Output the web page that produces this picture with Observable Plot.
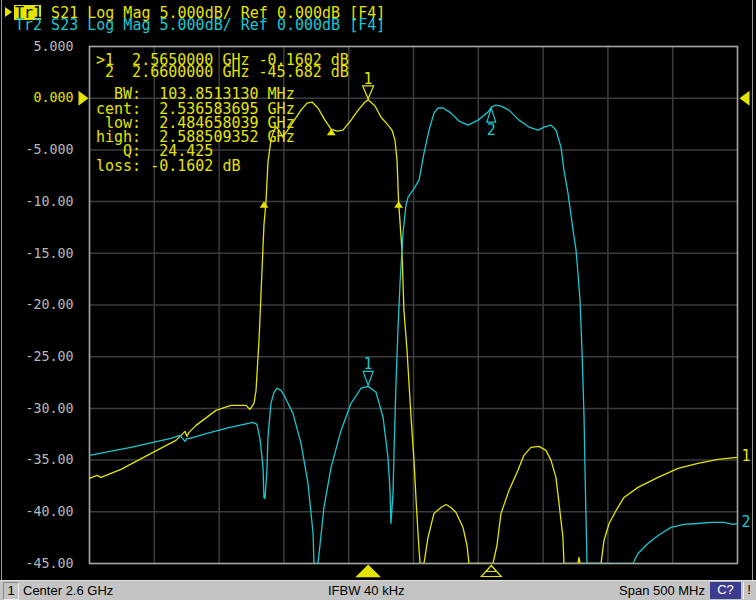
<!DOCTYPE html>
<html><head><meta charset="utf-8">
<script src="https://cdn.jsdelivr.net/npm/d3@7"></script>
<script src="https://cdn.jsdelivr.net/npm/@observablehq/plot@0.6"></script>
<style>
html,body{margin:0;padding:0;background:#000;width:756px;height:600px;overflow:hidden}
#wrap{position:relative;width:756px;height:600px;background:#000;overflow:hidden}
.mono{position:absolute;font-family:"DejaVu Sans Mono",monospace;font-size:15px;line-height:12px;height:12px;white-space:pre;margin:0}
#bar{position:absolute;left:0;top:580px;width:756px;height:20px;background:#c4c4c4;border-top:1px solid #e0e0e0;box-sizing:border-box;font-family:"Liberation Sans",sans-serif;font-size:13px;color:#000}
#bar div{position:absolute;top:2px;line-height:16px;white-space:pre}
svg{position:absolute;left:0;top:0}
</style></head><body>
<div id="wrap"></div>
<script>
// ---- data ----
const freqS21 = [2350,2355.8,2358.9,2374.3,2399.0,2416.7,2421.4,2423.7,2425.2,2426.8,2432.2,2447.6,2459.2,2470.8,2473.8,2476.9,2478.5,2480.8,2483.1,2484.6,2486.2,2487.7,2490.0,2492.4,2493.9,2496.2,2499.3,2505.5,2513.2,2517.8,2521.7,2526.3,2531.7,2536.4,2540.9,2545.6,2551.8,2557.9,2562.6,2565,2570.3,2574.9,2580.3,2583.4,2585.7,2587.3,2588.0,2588.5,2591.1,2592.6,2595.0,2598.1,2600.4,2602.0,2604.3,2605.1,2608.1,2611.2,2615.8,2621.2,2625.1,2628.9,2632.8,2638.2,2641.3,2642.8,2661.3,2664.4,2667.5,2673.7,2680.6,2685.2,2690.6,2696.8,2702.2,2706.1,2709.9,2712.3,2715.3,2716.1,2726.9,2727.7,2728.5,2744.7,2747.0,2750.9,2756.3,2762.4,2773.2,2788.7,2804.1,2819.5,2835.0,2850];
const magS21 = [-36.77,-36.48,-36.67,-35.90,-34.25,-33.09,-32.51,-32.22,-32.70,-32.32,-31.64,-30.19,-29.71,-29.71,-30.10,-29.52,-28.25,-23.41,-16.64,-12.28,-10.0,-6.18,-4.05,-3.08,-2.79,-3.08,-3.76,-2.60,-1.15,-0.47,-0.37,-0.95,-2.12,-2.99,-3.18,-3.08,-2.12,-1.05,-0.37,-0.16,-0.76,-1.82,-2.60,-3.08,-4.05,-5.99,-8.41,-10.0,-14.69,-20.50,-24.38,-30.86,-35.03,-38.90,-43.74,-45,-45,-42.48,-40.16,-39.58,-39.29,-39.58,-40.06,-41.51,-43.26,-45,-45,-43.26,-40.16,-37.93,-35.99,-34.54,-33.77,-33.67,-34.06,-35.03,-36.67,-39.19,-42.48,-45,-45,-44.42,-45,-45,-42.77,-41.13,-39.87,-38.61,-37.64,-36.67,-35.80,-35.32,-34.93,-34.74];
const freqS23 = [2350,2365.8,2382.0,2399.0,2412.9,2419.8,2423.7,2425.2,2427.6,2440.7,2458.4,2476.2,2479.2,2481.6,2483.9,2484.6,2485.4,2486.9,2487.7,2490.0,2492.4,2494.7,2497.8,2500.1,2507.0,2513.2,2518.6,2522.5,2523.2,2526.3,2527.8,2530.9,2536.4,2544.1,2551.8,2559.5,2565,2571.1,2576.5,2580.3,2581.9,2582.6,2584.2,2585.0,2586.5,2588.0,2589.6,2591.9,2594.2,2595.8,2599.6,2604.3,2608.1,2612.0,2615.8,2618.9,2622.8,2629.0,2635.1,2642.1,2649.8,2657.5,2660,2663.6,2667.5,2673.7,2681.4,2689.1,2696.1,2700.7,2706.1,2709.9,2713.8,2716.1,2719.2,2723.1,2725.4,2726.9,2728.5,2730.0,2731.6,2732.3,2733.1,2733.9,2769.4,2773.2,2780.9,2788.7,2798.7,2808.7,2819.5,2829.6,2839.6,2846.6,2850];
const magS23 = [-34.55,-34.16,-33.77,-33.29,-32.90,-32.61,-33.19,-32.90,-32.90,-32.41,-31.83,-31.35,-31.54,-33.0,-35.71,-38.61,-38.71,-36.0,-32.80,-29.51,-28.44,-28.05,-28.25,-28.73,-30.48,-33.38,-37.25,-42.10,-45,-45,-43.26,-39.58,-35.71,-32.13,-29.51,-28.05,-27.87,-28.44,-30.86,-34.74,-37.93,-41.13,-38.22,-34.06,-27.57,-22.44,-17.89,-13.05,-10.34,-9.57,-8.89,-7.92,-5.31,-3.08,-1.44,-0.95,-0.95,-1.44,-2.21,-2.60,-2.12,-1.34,-0.86,-0.66,-0.76,-1.15,-2.12,-2.79,-3.08,-2.79,-2.60,-3.08,-4.73,-6.96,-9.18,-12.76,-14.70,-16.93,-19.54,-24.38,-30.86,-35.71,-40.55,-45,-45,-44.03,-43.06,-42.29,-41.51,-41.22,-41.13,-41.03,-41.03,-41.22,-41.13];
const markerFreqs = [2565, 2660];
const markerS21 = [-0.1602, -45.682];
const markerS23 = [-27.87, -0.86];
const bwFreqs = [2484.658039, 2536.583695, 2588.509352];
const bwLevels = [-10, -2.99, -10];
const xTicks = [2350,2400,2450,2500,2550,2600,2650,2700,2750,2800,2850];
const yTicks = [5,0,-5,-10,-15,-20,-25,-30,-35,-40,-45];
const headerS21 = " S21 Log Mag 5.000dB/ Ref 0.000dB [F4]";
const headerS23 = "Tr2 S23 Log Mag 5.000dB/ Ref 0.000dB [F4]";
const readout = [">1  2.5650000 GHz -0.1602 dB", " 2  2.6600000 GHz -45.682 dB", "  BW:  103.8513130 MHz", "cent:  2.536583695 GHz", " low:  2.484658039 GHz", "high:  2.588509352 GHz", "   Q:  24.425", "loss: -0.1602 dB"];
const readoutTops = [54,66,88,103,117,131,145,160];
const statusItems = ["Center 2.6 GHz", "IFBW 40 kHz", "Span 500 MHz"];

// ---- style ----
const YEL = "#e4e400", CYA = "#1ac6d0", GRID = "#3c3c3c", MONO = "DejaVu Sans Mono";
const s21 = freqS21.map((f, i) => ({f, v: magS21[i]}));
const s23 = freqS23.map((f, i) => ({f, v: magS23[i]}));
const m21 = markerFreqs.map((f, i) => ({f, v: markerS21[i], n: String(i + 1)}));
const m23 = markerFreqs.map((f, i) => ({f, v: markerS23[i], n: String(i + 1)}));
const bw = bwFreqs.map((f, i) => ({f, v: bwLevels[i]}));

function tri(w, h, dir, off = 0) {
  return {draw(c) {
    if (dir === "down") { c.moveTo(-w/2, -h-off); c.lineTo(w/2, -h-off); c.lineTo(0, -off); }
    else if (dir === "up") { c.moveTo(0, off); c.lineTo(w/2, off+h); c.lineTo(-w/2, off+h); }
    else if (dir === "right") { c.moveTo(off, 0); c.lineTo(off-h, -w/2); c.lineTo(off-h, w/2); }
    else { c.moveTo(off, 0); c.lineTo(off+h, -w/2); c.lineTo(off+h, w/2); }
    c.closePath();
  }};
}

const chart = Plot.plot({
  width: 756, height: 580,
  marginLeft: 89, marginRight: 19, marginTop: 46, marginBottom: 17,
  x: {domain: [2350, 2850], axis: null},
  y: {domain: [-45, 5], axis: null},
  style: {background: "black", overflow: "visible"},
  marks: [
    Plot.gridX(xTicks, {stroke: GRID, strokeOpacity: 1, strokeWidth: 1.5}),
    Plot.gridY(yTicks, {stroke: GRID, strokeOpacity: 1, strokeWidth: 1.5}),
    Plot.frame({stroke: "#a4a4a4", strokeWidth: 1.5}),
    Plot.text(yTicks.filter(d => d !== 0), {y: d => d, frameAnchor: "left", dx: -16, textAnchor: "end", text: d => d.toPrecision(4), fill: "#b8b8b8", fontFamily: MONO, fontSize: 13.3}),
    Plot.text([0], {y: d => d, frameAnchor: "left", dx: -16, textAnchor: "end", text: d => d.toPrecision(4), fill: YEL, fontFamily: MONO, fontSize: 13.3}),
    Plot.line(s21, {x: "f", y: "v", stroke: YEL, strokeWidth: 1.3, clip: true}),
    Plot.line(s23, {x: "f", y: "v", stroke: CYA, strokeWidth: 1.3, clip: true}),
    // BW search markers
    Plot.dot(bw, {x: "f", y: "v", symbol: tri(8, 6, "up"), fill: YEL, stroke: YEL, strokeWidth: 0.5}),
    // marker 1 on both traces
    Plot.dot(m21.slice(0, 1), {x: "f", y: "v", symbol: tri(11, 13, "down", 1), fill: "none", stroke: YEL, strokeWidth: 1.2}),
    Plot.text(m21.slice(0, 1), {x: "f", y: "v", text: "n", dy: -21, fill: YEL, fontFamily: MONO, fontSize: 15}),
    Plot.dot(m23.slice(0, 1), {x: "f", y: "v", symbol: tri(10, 14, "down", 1), fill: "none", stroke: CYA, strokeWidth: 1.2}),
    Plot.text(m23.slice(0, 1), {x: "f", y: "v", text: "n", dy: -22, fill: CYA, fontFamily: MONO, fontSize: 15}),
    // marker 2 on cyan
    Plot.dot(m23.slice(1), {x: "f", y: "v", symbol: tri(9, 14, "up", 1), fill: "none", stroke: CYA, strokeWidth: 1.2}),
    Plot.text(m23.slice(1), {x: "f", y: "v", text: "n", dy: 23, fill: CYA, fontFamily: MONO, fontSize: 15}),
    // stimulus markers below the frame
    Plot.dot(m21.slice(0, 1), {x: "f", frameAnchor: "bottom", symbol: tri(22, 11, "up", 2), fill: YEL, stroke: YEL}),
    Plot.dot(m21.slice(1), {x: "f", frameAnchor: "bottom", symbol: tri(20, 11, "up", 2), fill: "none", stroke: YEL, strokeWidth: 1.2}),
    Plot.dot(m21.slice(1), {x: "f", frameAnchor: "bottom", symbol: tri(10, 6, "up", 2), fill: "none", stroke: YEL, strokeWidth: 1}),
    // reference level arrows
    Plot.dot([0], {y: d => d, frameAnchor: "left", symbol: tri(15, 10, "right", -1), fill: YEL}),
    Plot.dot([0], {y: d => d, frameAnchor: "right", symbol: tri(15, 10, "left", 2), fill: YEL}),
    // trace end labels
    Plot.text([s21[s21.length - 1]], {x: "f", y: "v", text: () => "1", dx: 4, dy: -1, textAnchor: "start", fill: YEL, fontFamily: MONO, fontSize: 15}),
    Plot.text([s23[s23.length - 1]], {x: "f", y: "v", text: () => "2", dx: 4, dy: -1, textAnchor: "start", fill: CYA, fontFamily: MONO, fontSize: 15})
  ]
});

const wrap = document.getElementById("wrap");
wrap.appendChild(chart);

function addDiv(parent, cls, text, css) {
  const d = document.createElement("div");
  if (cls) d.className = cls;
  d.textContent = text;
  Object.assign(d.style, css);
  parent.appendChild(d);
  return d;
}
// outer side borders
addDiv(wrap, null, "", {position: "absolute", left: "1px", top: "0px", width: "1px", height: "580px", background: "#9a9a9a"});
addDiv(wrap, null, "", {position: "absolute", left: "752px", top: "0px", width: "1px", height: "580px", background: "#9a9a9a"});
// header
addDiv(wrap, null, "", {position: "absolute", left: "14px", top: "5px", width: "27px", height: "15px", background: YEL});
addDiv(wrap, null, "", {position: "absolute", left: "5px", top: "7px", width: "0", height: "0", borderTop: "5.5px solid transparent", borderBottom: "5.5px solid transparent", borderLeft: "7px solid " + YEL});
const h1 = addDiv(wrap, "mono", "", {left: "15px", top: "7px", color: YEL});
const sp = document.createElement("span"); sp.textContent = "Tr1"; sp.style.color = "#000"; h1.appendChild(sp);
h1.appendChild(document.createTextNode(headerS21));
addDiv(wrap, "mono", headerS23, {left: "15px", top: "19px", color: CYA});
// marker readout
readout.forEach((t, i) => addDiv(wrap, "mono", t, {left: "96px", top: readoutTops[i] + "px", color: YEL}));
// status bar
const bar = addDiv(wrap, null, "", {});
bar.id = "bar";
addDiv(bar, null, "1", {left: "3px", top: "1px", width: "14px", height: "16px", textAlign: "center", borderLeft: "1px solid #888", borderTop: "1px solid #888", borderRight: "1px solid #eee", borderBottom: "1px solid #eee"});
addDiv(bar, null, statusItems[0], {left: "23px"});
addDiv(bar, null, statusItems[1], {left: "328px"});
addDiv(bar, null, statusItems[2], {left: "619px"});
addDiv(bar, null, "C?", {left: "710px", top: "1px", width: "31px", height: "17px", background: "#3c3c8e", color: "#fff", textAlign: "center"});
addDiv(bar, null, "!", {left: "743px", top: "1px", width: "10px", height: "17px", textAlign: "center", borderLeft: "1px solid #eee"});
</script>
</body></html>
